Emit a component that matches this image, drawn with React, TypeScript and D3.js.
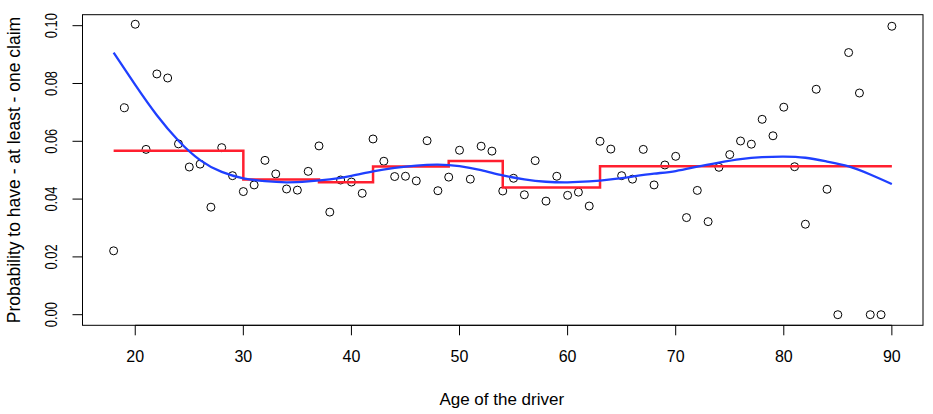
import React from "react";
import * as d3 from "d3";

const ages: number[] = d3.range(18, 91);
const probs: number[] = [
  0.0221, 0.0716, 0.1005, 0.0572, 0.0833, 0.0819, 0.0591, 0.0511, 0.0521, 0.0372,
  0.0578, 0.0481, 0.0426, 0.0449, 0.0534, 0.0487, 0.0435, 0.0431, 0.0496, 0.0584,
  0.0355, 0.0466, 0.0459, 0.0420, 0.0608, 0.0531, 0.0478, 0.0479, 0.0463, 0.0602,
  0.0429, 0.0476, 0.0569, 0.0469, 0.0583, 0.0566, 0.0428, 0.0472, 0.0415, 0.0533,
  0.0393, 0.0479, 0.0413, 0.0424, 0.0376, 0.0600, 0.0573, 0.0481, 0.0469, 0.0572,
  0.0449, 0.0518, 0.0548, 0.0336, 0.0430, 0.0322, 0.0510, 0.0554, 0.0601, 0.0590,
  0.0676, 0.0619, 0.0718, 0.0512, 0.0313, 0.0780, 0.0434, 0.0, 0.0907, 0.0767,
  0.0, 0.0, 0.0998,
];

const stepBreaks: number[] = [18, 30, 37, 42, 49, 54, 63, 90];
const stepLevels: number[] = [0.0567, 0.0468, 0.0458, 0.0513, 0.0532, 0.0440, 0.0514];

const smoothAges: number[] = [18, 20, 22, 24, 26, 28, 30, 32, 34, 36, 38, 40, 42, 44, 46, 48, 50, 52, 54, 56, 58, 60, 62, 64, 66, 68, 70, 72, 74, 76, 78, 80, 82, 84, 86, 88, 90];
const smoothVals: number[] = [
  0.0907, 0.0795, 0.0690, 0.0602, 0.0535, 0.0494, 0.0472, 0.0462, 0.0458, 0.0461,
  0.0468, 0.0480, 0.0496, 0.0508, 0.0516, 0.0519, 0.0514, 0.0500, 0.0482, 0.0468,
  0.0460, 0.0458, 0.0461, 0.0468, 0.0478, 0.0488, 0.0497, 0.0512, 0.0526, 0.0538,
  0.0545, 0.0547, 0.0543, 0.0530, 0.0513, 0.0485, 0.0452,
];

const xTicks: number[] = [20, 30, 40, 50, 60, 70, 80, 90];
const yTicks: number[] = [0, 0.02, 0.04, 0.06, 0.08, 0.1];

const W = 933;
const H = 414;
const L = 82.5, R = 923, T = 14.7, B = 325.3;
const FONT = "'Liberation Sans', Arial, Helvetica, sans-serif";

export default function App() {
  const x = d3.scaleLinear().domain([15.12, 92.88]).range([L, R]);
  const y = d3.scaleLinear().domain([-0.00367, 0.1038]).range([B, T]);

  const stepPts: [number, number][] = stepBreaks.map((b, i) => [
    b,
    stepLevels[Math.min(i, stepLevels.length - 1)],
  ]);
  const stepLine = d3
    .line<[number, number]>()
    .x((d) => x(d[0]))
    .y((d) => y(d[1]))
    .curve(d3.curveStepAfter);

  const smoothLine = d3
    .line<number>()
    .x((_, i) => x(smoothAges[i]))
    .y((d) => y(d))
    .curve(d3.curveNatural);

  return (
    <svg
      width={W}
      height={H}
      style={{ position: "absolute", left: 0, top: 0, background: "#fff" }}
      fontFamily={FONT}
    >
      <rect x={0} y={0} width={W} height={H} fill="#fff" />
      {/* plot box */}
      <rect x={L} y={T} width={R - L} height={B - T} fill="none" stroke="#000" strokeWidth={1} />

      {/* x axis */}
      <line x1={x(xTicks[0])} x2={x(xTicks[xTicks.length - 1])} y1={B} y2={B} stroke="#000" />
      {xTicks.map((t) => (
        <g key={"xt" + t}>
          <line x1={x(t)} x2={x(t)} y1={B} y2={B + 10} stroke="#000" />
          <text x={x(t)} y={362} textAnchor="middle" fontSize={16} fill="#000">
            {t}
          </text>
        </g>
      ))}
      <text x={(L + R) / 2 - 1} y={405} textAnchor="middle" fontSize={17} fill="#000">
        Age of the driver
      </text>

      {/* y axis */}
      <line x1={L} x2={L} y1={y(yTicks[0])} y2={y(yTicks[yTicks.length - 1])} stroke="#000" />
      {yTicks.map((t) => (
        <g key={"yt" + t}>
          <line x1={L - 10} x2={L} y1={y(t)} y2={y(t)} stroke="#000" />
          <text
            transform={`translate(57, ${y(t)}) rotate(-90)`}
            textAnchor="middle"
            fontSize={17}
            fill="#000"
            textLength={25}
            lengthAdjust="spacingAndGlyphs"
          >
            {t.toFixed(2)}
          </text>
        </g>
      ))}
      <text
        transform={`translate(20, ${(T + B) / 2}) rotate(-90)`}
        textAnchor="middle"
        fontSize={17.5}
        fill="#000"
      >
        Probability to have - at least - one claim
      </text>

      {/* points */}
      {probs.map((p, i) => (
        <circle
          key={"p" + i}
          cx={x(ages[i])}
          cy={y(p)}
          r={4}
          fill="none"
          stroke="#000"
          strokeWidth={1}
        />
      ))}

      {/* step function */}
      <path d={stepLine(stepPts) || ""} fill="none" stroke="#ff1f2f" strokeWidth={2.5} />

      {/* smooth curve */}
      <path d={smoothLine(smoothVals) || ""} fill="none" stroke="#1f3fff" strokeWidth={2.3} />
    </svg>
  );
}
